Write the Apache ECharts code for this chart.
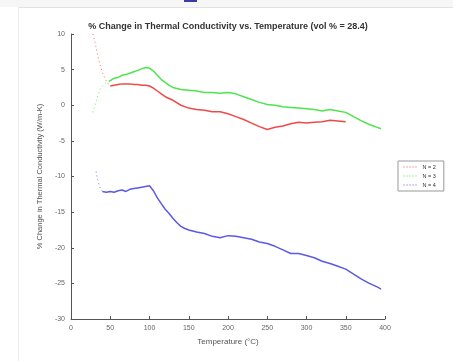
<!DOCTYPE html>
<html>
<head>
<meta charset="utf-8">
<script src="https://cdn.jsdelivr.net/npm/echarts@6/dist/echarts.min.js"></script>
<style>html,body{margin:0;padding:0;background:#fff}#c{width:453px;height:361px}</style>
</head>
<body>
<div id="c"></div>
<script>
// ---- data ----
const xTicks = [0, 50, 100, 150, 200, 250, 300, 350, 400];
const yTicks = [-30, -25, -20, -15, -10, -5, 0, 5, 10];
const seriesNames = ['N = 2', 'N = 3', 'N = 4'];

// N = 2 (red)
const redStartT = [28, 31, 34, 37, 40, 44, 48, 50];
const redStartV = [10.0, 8.6, 7.0, 5.7, 4.6, 3.6, 2.9, 2.7];
const redT = [50, 55, 60, 65, 70, 75, 80, 85, 90, 95, 100, 105, 110, 115, 120, 130, 140, 150, 160, 170, 180, 190, 200, 210, 220, 230, 240, 250, 260, 270, 280, 290, 300, 310, 320, 330, 340, 350];
const redV = [2.7, 2.8, 2.9, 3.0, 3.0, 3.0, 2.9, 2.9, 2.8, 2.8, 2.7, 2.4, 2.0, 1.6, 1.2, 0.7, 0.0, -0.4, -0.6, -0.7, -0.9, -0.9, -1.2, -1.6, -2.0, -2.5, -3.0, -3.4, -3.1, -2.9, -2.6, -2.4, -2.5, -2.4, -2.3, -2.1, -2.2, -2.3];

// N = 3 (green)
const greenStartT = [28, 31, 34, 37, 40, 44, 48];
const greenStartV = [-1.0, 0.2, 1.3, 2.2, 2.7, 3.1, 3.3];
const greenT = [48, 50, 55, 60, 65, 70, 75, 80, 85, 90, 95, 100, 105, 110, 115, 120, 125, 130, 140, 150, 160, 170, 180, 190, 200, 210, 220, 230, 240, 250, 260, 270, 280, 290, 300, 310, 320, 330, 340, 350, 360, 370, 380, 390, 395];
const greenV = [3.3, 3.5, 3.8, 3.9, 4.2, 4.3, 4.5, 4.7, 4.9, 5.1, 5.3, 5.2, 4.8, 4.2, 3.6, 3.2, 2.8, 2.5, 2.2, 2.1, 2.0, 1.8, 1.8, 1.7, 1.8, 1.6, 1.2, 0.8, 0.4, 0.1, 0.0, -0.2, -0.3, -0.4, -0.5, -0.6, -0.8, -0.6, -0.8, -1.0, -1.6, -2.2, -2.7, -3.1, -3.3];

// N = 4 (blue)
const blueStartT = [32, 34, 36, 38, 40];
const blueStartV = [-9.3, -10.5, -11.3, -11.8, -12.1];
const blueT = [40, 45, 50, 55, 60, 65, 70, 75, 80, 85, 90, 95, 100, 105, 110, 115, 120, 125, 130, 135, 140, 145, 150, 160, 170, 180, 190, 200, 210, 220, 230, 240, 250, 260, 270, 280, 290, 300, 310, 320, 330, 340, 350, 360, 370, 380, 390, 395];
const blueV = [-12.1, -12.2, -12.1, -12.2, -12.0, -11.9, -12.1, -11.8, -11.7, -11.6, -11.5, -11.4, -11.3, -12.0, -13.0, -13.8, -14.6, -15.2, -15.9, -16.5, -17.0, -17.3, -17.5, -17.8, -18.0, -18.4, -18.6, -18.3, -18.4, -18.6, -18.8, -19.2, -19.4, -19.8, -20.3, -20.8, -20.8, -21.1, -21.4, -21.9, -22.2, -22.6, -23.0, -23.7, -24.4, -25.0, -25.5, -25.8];

const colors = ['#ee4a4a', '#4ee44e', '#5a5ae6'];

const pairs = (xs, ys) => xs.map((x, i) => [x, ys[i]]);

const mainSeries = [
  [redT, redV], [greenT, greenV], [blueT, blueV]
].map((d, i) => ({
  name: seriesNames[i], type: 'line', data: pairs(d[0], d[1]),
  showSymbol: false, symbol: 'none', smooth: false,
  lineStyle: { color: colors[i], width: 1.5 }, itemStyle: { color: colors[i] },
  z: 3 - i
}));
const startSeries = [
  [redStartT, redStartV], [greenStartT, greenStartV], [blueStartT, blueStartV]
].map((d, i) => ({
  name: seriesNames[i], type: 'line', data: pairs(d[0], d[1]),
  showSymbol: false, symbol: 'none',
  lineStyle: { color: colors[i], width: 1, type: [1, 3], opacity: 0.8 },
  itemStyle: { color: colors[i] }
}));

const chart = echarts.init(document.getElementById('c'), null, { renderer: 'canvas' });
const font = 'Liberation Sans, Arial, sans-serif';
chart.setOption({
  animation: false,
  backgroundColor: '#fff',
  title: {
    text: '% Change in Thermal Conductivity vs. Temperature (vol % = 28.4)',
    left: 223, textAlign: 'center', top: 17,
    textStyle: { fontSize: 9, fontWeight: 'bold', color: '#333', fontFamily: font }
  },
  legend: {
    data: seriesNames, orient: 'vertical', left: 398, top: 161,
    itemWidth: 14, itemHeight: 6, itemGap: 3,
    padding: [3, 8, 3, 5],
    borderColor: '#999', borderWidth: 1, backgroundColor: '#fff',
    textStyle: { fontSize: 5.5, color: '#333', fontFamily: font },
    itemStyle: { opacity: 0 },
    lineStyle: { type: [1, 2], width: 1 }
  },
  graphic: [
    { type: 'rect', shape: { x: 0, y: 0, width: 453, height: 7 }, style: { fill: '#f6f6f6' }, silent: true },
    { type: 'line', shape: { x1: 18, y1: 7.5, x2: 453, y2: 7.5 }, style: { stroke: '#e2e2e2', lineWidth: 1 } },
    { type: 'line', shape: { x1: 18.5, y1: 7, x2: 18.5, y2: 361 }, style: { stroke: '#ececec', lineWidth: 1 } },
    { type: 'rect', shape: { x: 184, y: 0, width: 13, height: 2 }, style: { fill: '#3a3aa8' } }
  ],
  grid: { left: 71, right: 68, top: 34, bottom: 42 },
  xAxis: {
    type: 'value', min: xTicks[0], max: xTicks[xTicks.length - 1], interval: 50,
    name: 'Temperature (°C)', nameLocation: 'middle', nameGap: 19,
    nameTextStyle: { fontSize: 8, color: '#555', fontFamily: font },
    axisLine: { onZero: false, lineStyle: { color: '#555', width: 1 } },
    axisTick: { inside: true, length: 3, lineStyle: { color: '#555' } },
    axisLabel: { fontSize: 7, color: '#666', margin: 6, fontFamily: font },
    splitLine: { show: false }
  },
  yAxis: {
    type: 'value', min: yTicks[0], max: yTicks[yTicks.length - 1], interval: 5,
    name: '% Change in Thermal Conductivity (W/m-K)', nameLocation: 'middle', nameGap: 21,
    nameTextStyle: { fontSize: 7.5, color: '#555', fontFamily: font },
    axisLine: { show: true, onZero: false, lineStyle: { color: '#555', width: 1 } },
    axisTick: { show: true, inside: true, length: 3, lineStyle: { color: '#555' } },
    axisLabel: { fontSize: 7, color: '#666', margin: 6, fontFamily: font },
    splitLine: { show: false }
  },
  series: mainSeries.concat(startSeries)
});
</script>
</body>
</html>
